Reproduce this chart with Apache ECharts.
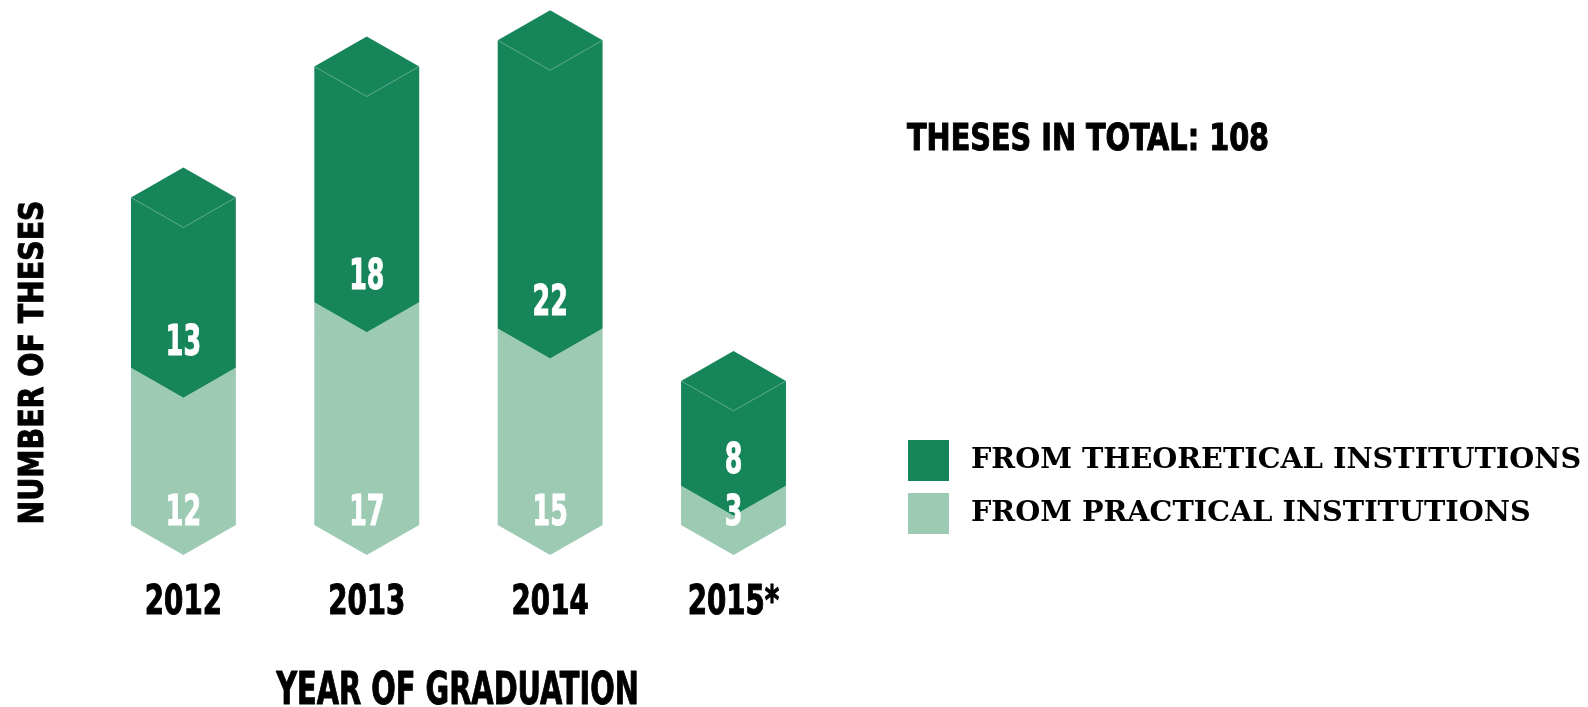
<!DOCTYPE html>
<html>
<head>
<meta charset="utf-8">
<script src="https://cdn.jsdelivr.net/npm/echarts@6/dist/echarts.min.js"></script>
<style>
  html, body { margin: 0; padding: 0; background: #fff; }
  #chart { width: 1588px; height: 707px; }
</style>
</head>
<body>
<div id="chart"></div>
<script>
const years = ['2012', '2013', '2014', '2015*'];
const practical = [12, 17, 15, 3];
const theoretical = [13, 18, 22, 8];
const totalLabel = 'THESES IN TOTAL: 108';

const DARK = '#17855A';
const LIGHT = '#9CCAB3';
const NARROW = '"DejaVu Sans Condensed", "DejaVu Sans", sans-serif';

const chart = echarts.init(document.getElementById('chart'));

// prism size relative to the category band
function geom(api) {
  const band = api.size([1, 0])[0];
  const half = band * 0.286;
  return { half: half, depth: half * 0.571 };
}

function renderPractical(params, api) {
  const i = api.value(0);
  const base = api.coord([i, 0]);
  const top = api.coord([i, api.value(1)]);
  const g = geom(api);
  const cx = base[0];
  return {
    type: 'polygon',
    shape: {
      points: [
        [cx - g.half, top[1]], [cx, top[1] + g.depth], [cx + g.half, top[1]],
        [cx + g.half, base[1]], [cx, base[1] + g.depth], [cx - g.half, base[1]]
      ]
    },
    style: { fill: LIGHT }
  };
}

function renderTheoretical(params, api) {
  const i = api.value(0);
  const p = api.value(1);
  const t = api.value(2);
  const mid = api.coord([i, p]);
  const top = api.coord([i, p + t]);
  const g = geom(api);
  const cx = mid[0];
  return {
    type: 'group',
    children: [
      {
        type: 'polygon',
        shape: {
          points: [
            [cx - g.half, top[1]], [cx, top[1] - g.depth], [cx + g.half, top[1]],
            [cx + g.half, mid[1]], [cx, mid[1] + g.depth], [cx - g.half, mid[1]]
          ]
        },
        style: { fill: DARK }
      },
      {
        type: 'polyline',
        shape: { points: [[cx - g.half, top[1]], [cx, top[1] + g.depth], [cx + g.half, top[1]]] },
        style: { stroke: 'rgba(255,255,255,0.3)', lineWidth: 1, fill: null }
      }
    ]
  };
}

function condensedText(x, y, text, color, size, sx) {
  return {
    type: 'text', x: x, y: y, scaleX: sx,
    style: {
      text: text, fill: color, fontSize: size, fontWeight: 'bold',
      fontFamily: NARROW, align: 'center', verticalAlign: 'middle',
      stroke: color, lineWidth: 1
    }
  };
}

// value labels inside the prisms + year labels under them
function renderLabels(params, api) {
  const i = api.value(0);
  const p = api.value(1);
  const t = api.value(2);
  const base = api.coord([i, 0]);
  const mid = api.coord([i, p]);
  return {
    type: 'group',
    children: [
      condensedText(base[0], base[1] - 11, String(p), '#fff', 42, 0.67),
      condensedText(mid[0], mid[1] - 24, String(t), '#fff', 42, 0.67),
      condensedText(base[0], base[1] + 79, years[params.dataIndex], '#000', 40, 0.77)
    ]
  };
}

const stackData = years.map((y, i) => [i, practical[i], theoretical[i]]);

const option = {
  animation: false,
  grid: { left: 91.7, width: 733.5, top: 1, bottom: 182 },
  xAxis: {
    type: 'category',
    data: years,
    axisLine: { show: false },
    axisTick: { show: false },
    splitLine: { show: false },
    axisLabel: { show: false }
  },
  yAxis: {
    type: 'value',
    min: 0,
    max: 40,
    show: false
  },
  legend: {
    orient: 'vertical',
    left: 908,
    top: 440,
    padding: 0,
    icon: 'rect',
    itemWidth: 41,
    itemHeight: 41,
    itemGap: 12,
    selectedMode: false,
    data: ['FROM THEORETICAL INSTITUTIONS', 'FROM PRACTICAL INSTITUTIONS'],
    textStyle: {
      color: '#000',
      fontSize: 28.7,
      fontWeight: 'bold',
      fontFamily: '"DejaVu Serif", "Liberation Serif", serif',
      padding: [6, 0, 0, 17]
    }
  },
  graphic: [
    {
      type: 'text', x: 907, y: 140, scaleX: 0.863,
      style: {
        text: totalLabel, fill: '#000', fontSize: 37, fontWeight: 'bold',
        fontFamily: NARROW, align: 'left', verticalAlign: 'middle',
        stroke: '#000', lineWidth: 1
      }
    },
    {
      type: 'text', x: 34, y: 362.5, rotation: Math.PI / 2, scaleX: 0.928,
      style: {
        text: 'NUMBER OF THESES', fill: '#000', fontSize: 34, fontWeight: 'bold',
        fontFamily: NARROW, align: 'center', verticalAlign: 'middle',
        stroke: '#000', lineWidth: 1
      }
    },
    {
      type: 'text', x: 457.5, y: 692, scaleX: 0.712,
      style: {
        text: 'YEAR OF GRADUATION', fill: '#000', fontSize: 45, fontWeight: 'bold',
        fontFamily: NARROW, align: 'center', verticalAlign: 'middle',
        stroke: '#000', lineWidth: 1
      }
    }
  ],
  series: [
    {
      name: 'FROM PRACTICAL INSTITUTIONS',
      type: 'custom',
      z: 2,
      itemStyle: { color: LIGHT },
      renderItem: renderPractical,
      encode: { x: 0, y: 1 },
      data: stackData
    },
    {
      name: 'FROM THEORETICAL INSTITUTIONS',
      type: 'custom',
      z: 3,
      itemStyle: { color: DARK },
      renderItem: renderTheoretical,
      encode: { x: 0, y: 2 },
      data: stackData
    },
    {
      name: 'labels',
      type: 'custom',
      z: 4,
      silent: true,
      renderItem: renderLabels,
      encode: { x: 0, y: 1 },
      data: stackData
    }
  ]
};

chart.setOption(option);
window.addEventListener('resize', () => chart.resize());
</script>
</body>
</html>
